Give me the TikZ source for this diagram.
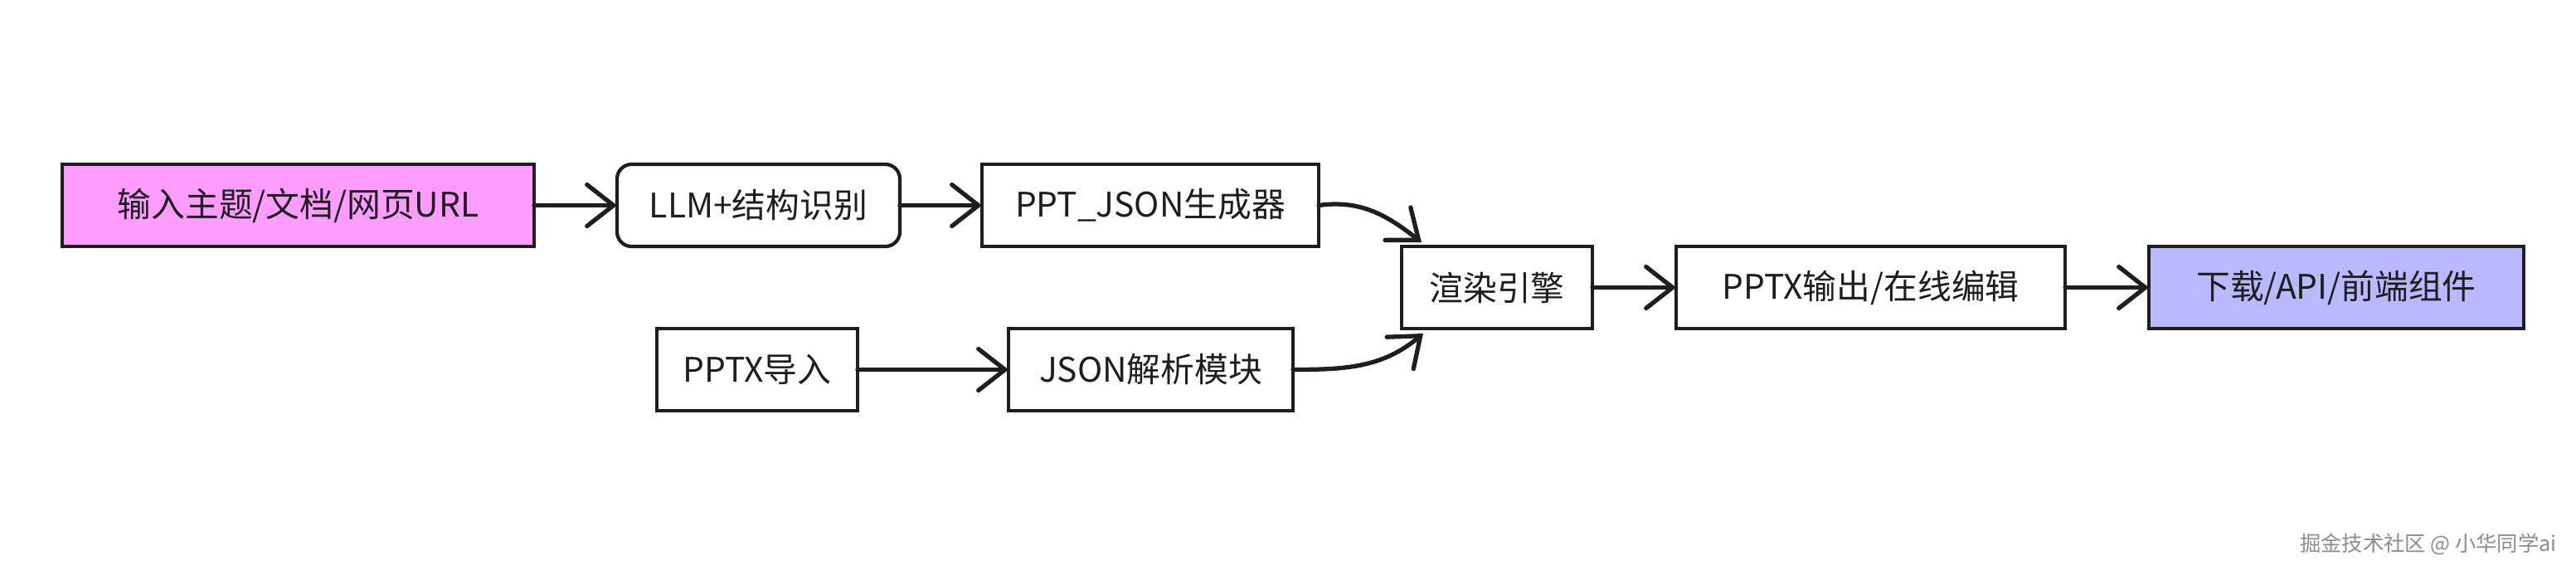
\documentclass[tikz,border=0pt]{standalone}
\usepackage{fontspec}
\setmainfont{Noto Sans CJK SC}
\usepackage{xcolor}
\usepackage{tikz}
\usetikzlibrary{positioning, arrows.meta}
\definecolor{inkc}{HTML}{1E1E1E}
\definecolor{pinkc}{HTML}{FF9CFF}
\definecolor{bluec}{HTML}{B9B9FF}

\begin{document}
\begin{tikzpicture}[
    node distance=1cm and 1cm,
    box/.style={rectangle, draw=inkc, line width=1.2pt, fill=white, text=inkc,
                minimum height=0.99cm, inner sep=2pt, outer sep=0pt,
                align=center, font=\fontsize{11.6pt}{13pt}\selectfont},
    rbox/.style={box, rounded corners=5pt},
    pinkbox/.style={box, fill=pinkc},
    bluebox/.style={box, fill=bluec},
    arrow/.style={-{Straight Barb[length=3.2mm, width=5mm, line cap=round]},
                  line width=1.5pt, inkc, line cap=round},
    wmark/.style={font=\fontsize{7.2pt}{8pt}\selectfont, text=black!45},
]
\useasboundingbox (0,0) rectangle (31.06,-6.92);

% === upper row ===
\node[pinkbox, minimum width=5.69cm, anchor=west] (in) at (0.75,-2.475) {输入主题/文档/网页URL};
\node[rbox, minimum width=3.41cm, right=of in] (llm) {LLM+结构识别};
\node[box, minimum width=4.06cm, right=0.99cm of llm] (gen) {PPT\_JSON生成器};
\draw[arrow] (in) -- (llm);
\draw[arrow] (llm) -- (gen);

% === middle row ===
\node[box, minimum width=2.30cm, anchor=west] (render) at (16.90,-3.465) {渲染引擎};
\node[box, minimum width=4.69cm, right=1.01cm of render] (out) {PPTX输出/在线编辑};
\node[bluebox, minimum width=4.52cm, right=1.01cm of out] (dl) {下载/API/前端组件};
\draw[arrow] (render) -- (out);
\draw[arrow] (out) -- (dl);

% === lower row ===
\node[box, minimum width=2.42cm, anchor=west] (imp) at (7.92,-4.455) {PPTX导入};
\node[box, minimum width=3.43cm, right=1.82cm of imp] (parse) {JSON解析模块};
\draw[arrow] (imp) -- (parse);

% merge into the engine
\draw[arrow] (gen.east) to[out=8, in=142] ([xshift=0.24cm, yshift=0.05cm]render.north west);
\draw[arrow] (parse.east) to[out=0, in=-140] ([xshift=0.26cm, yshift=-0.06cm]render.south west);

\node[wmark, anchor=east] (wm) at (30.95,-6.56) {掘金技术社区 @ 小华同学ai};

\end{tikzpicture}
\end{document}
